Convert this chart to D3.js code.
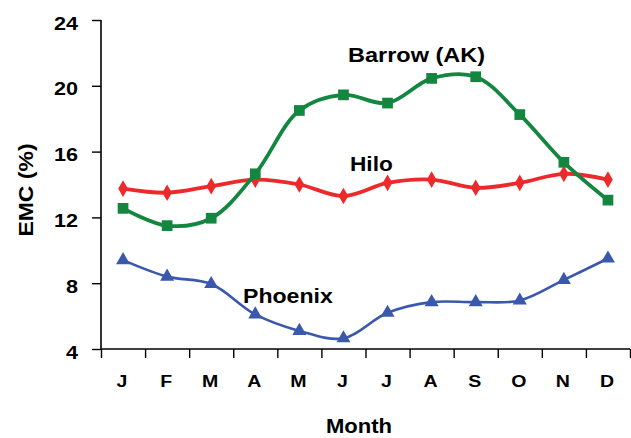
<!DOCTYPE html>
<html>
<head>
<meta charset="utf-8">
<script src="https://cdn.jsdelivr.net/npm/d3@7"></script>
<style>
  body { margin: 0; background: #fff; }
  text { font-family: "Liberation Sans", Arial, sans-serif; font-weight: bold; }
</style>
</head>
<body>
<script>
// month labels and EMC values (%)
const months = ['J', 'F', 'M', 'A', 'M', 'J', 'J', 'A', 'S', 'O', 'N', 'D'];
const barrow = [12.55, 11.5, 11.95, 14.65, 18.5, 19.45, 18.95, 20.45, 20.55, 18.25, 15.35, 13.05];
const hilo = [13.75, 13.5, 13.9, 14.3, 14.0, 13.3, 14.1, 14.3, 13.8, 14.1, 14.65, 14.3];
const phoenix = [9.4, 8.4, 7.95, 6.1, 5.1, 4.65, 6.2, 6.85, 6.85, 6.95, 8.2, 9.5];
const yTicks = [4, 8, 12, 16, 20, 24];

const width = 631, height = 438;
const margin = { top: 20, right: 1, bottom: 89, left: 101 };

const svg = d3.select('body').append('svg')
    .attr('width', width)
    .attr('height', height);

const x = d3.scaleBand()
    .domain(d3.range(12))
    .range([margin.left, width - margin.right])
    .padding(0);

const xEdge = d3.scaleLinear()
    .domain([0, 12])
    .range([margin.left, width - margin.right]);

const y = d3.scaleLinear()
    .domain([4, 24])
    .range([height - margin.bottom, margin.top]);

const cx = i => x(i) + x.bandwidth() / 2;

// the original text is a bit wider than Arial bold, so stretch it along its run
function label(px, py, txt, size, anchor, sx, rot) {
    return svg.append('text')
        .attr('transform', `translate(${px},${py})` + (rot ? ` rotate(${rot})` : '') + ` scale(${sx},1)`)
        .attr('text-anchor', anchor)
        .style('font-size', size + 'px')
        .text(txt);
}

// y axis
const yAxis = svg.append('g')
    .attr('transform', `translate(${margin.left},0)`)
    .call(d3.axisLeft(y).tickValues(yTicks).tickSize(9));
yAxis.select('.domain').attr('stroke-width', 1.6).attr('d', `M0,${y(24)}V${y(4)}`);
yAxis.selectAll('.tick line').attr('stroke-width', 1.4);
yAxis.selectAll('.tick text')
    .attr('x', null)
    .attr('dy', null)
    .attr('transform', 'translate(-23,9) scale(1.2,1)')
    .style('font-size', '18px')
    .style('font-family', '"Liberation Sans", Arial, sans-serif')
    .style('font-weight', 'bold')
    .attr('fill', '#000');

// x axis: ticks at band edges, labels at centres
const xAxis = svg.append('g')
    .attr('transform', `translate(0,${y(4)})`)
    .call(d3.axisBottom(xEdge).tickValues(d3.range(13)).tickSize(9).tickFormat(''));
xAxis.select('.domain').attr('stroke-width', 1.6).attr('d', `M${margin.left},0H${width - margin.right}`);
xAxis.selectAll('.tick line').attr('stroke-width', 1.4);

months.forEach((m, i) => label(cx(i) - 1, 387, m, 17, 'middle', 1.15));

// axis titles
label(359, 433, 'Month', 21, 'middle', 1.05);
label(33, 190, 'EMC (%)', 20, 'middle', 1.15, -90);

const line = d3.line()
    .x((d, i) => cx(i))
    .y(d => y(d))
    .curve(d3.curveCatmullRom.alpha(0.5));

function drawSeries(values, color, strokeW, symbol, size) {
    svg.append('path')
        .datum(values)
        .attr('fill', 'none')
        .attr('stroke', color)
        .attr('stroke-width', strokeW)
        .attr('d', line);
    svg.append('g').selectAll('path')
        .data(values)
        .join('path')
        .attr('transform', (d, i) => `translate(${cx(i)},${y(d)})`)
        .attr('d', d3.symbol().type(symbol).size(size))
        .attr('fill', color);
}

drawSeries(phoenix, '#3a58ad', 2.6, d3.symbolTriangle, 85);
drawSeries(hilo, '#ec2a2c', 3.8, d3.symbolDiamond, 80);
drawSeries(barrow, '#138640', 3.8, d3.symbolSquare, 115);

// series labels
label(348, 62, 'Barrow (AK)', 21, 'start', 1.12);
label(350, 171, 'Hilo', 21, 'start', 1.08);
label(243, 303, 'Phoenix', 21, 'start', 1.1);
</script>
</body>
</html>
